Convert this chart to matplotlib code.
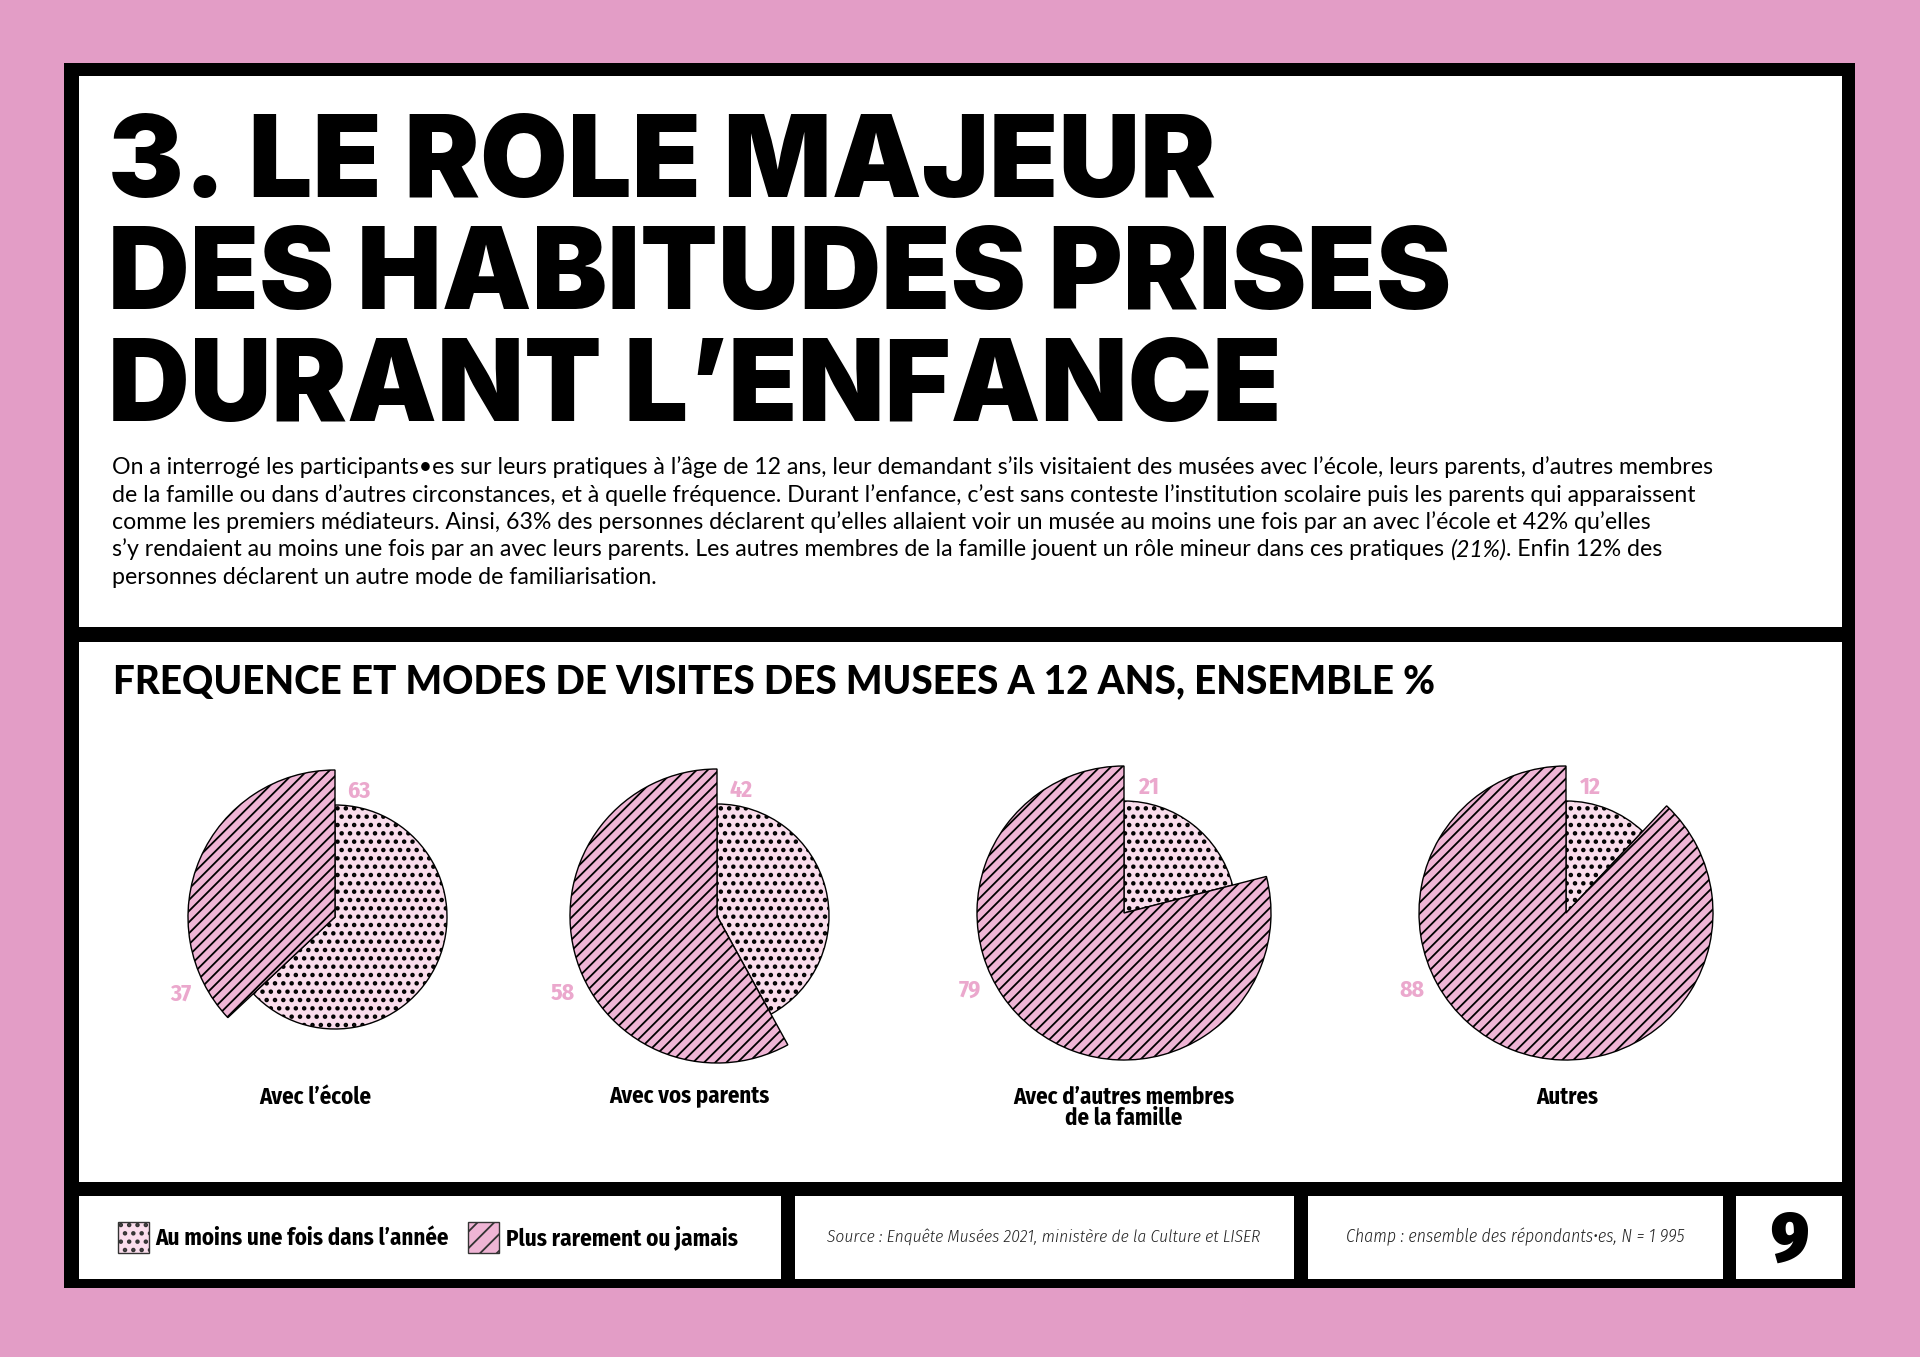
import matplotlib
matplotlib.use("Agg")
import matplotlib.pyplot as plt
from matplotlib.patches import Rectangle

# ---------------- data ----------------
categories = ["Avec l’école", "Avec vos parents", "Avec d’autres membres\nde la famille", "Autres"]
au_moins_une_fois = [63, 42, 21, 12]
plus_rarement = [37, 58, 79, 88]
legend_labels = ["Au moins une fois dans l’année", "Plus rarement ou jamais"]

title_lines = ["3. LE ROLE MAJEUR", "DES HABITUDES PRISES", "DURANT L’ENFANCE"]
body_lines = [
    ["On a interrogé les participants•es sur leurs pratiques à l’âge de 12 ans, leur demandant s’ils visitaient des musées avec l’école, leurs parents, d’autres membres"],
    ["de la famille ou dans d’autres circonstances, et à quelle fréquence. Durant l’enfance, c’est sans conteste l’institution scolaire puis les parents qui apparaissent"],
    ["comme les premiers médiateurs. Ainsi, 63% des personnes déclarent qu’elles allaient voir un musée au moins une fois par an avec l’école et 42% qu’elles"],
    ["s’y rendaient au moins une fois par an avec leurs parents. Les autres membres de la famille jouent un rôle mineur dans ces pratiques ", "(21%)", ". Enfin 12% des"],
    ["personnes déclarent un autre mode de familiarisation."],
]
subtitle = "FREQUENCE ET MODES DE VISITES DES MUSEES A 12 ANS, ENSEMBLE %"
source = "Source : Enquête Musées 2021, ministère de la Culture et LISER"
champ = "Champ : ensemble des répondants•es, N = 1 995"
page = "9"

# ---------------- style ----------------
PINK_BG = "#E39DC6"
DOT_FILL = "#FADDEC"
HATCH_FILL = "#EFB5D5"
LABEL_PINK = "#EBA8CD"
W, H = 1920, 1357
plt.rcParams["hatch.linewidth"] = 1.3

fig = plt.figure(figsize=(W / 100, H / 100), dpi=100, facecolor=PINK_BG)
bg = fig.add_axes([0, 0, 1, 1])
bg.set_xlim(0, W)
bg.set_ylim(H, 0)
bg.axis("off")
renderer = fig.canvas.get_renderer()

def rect(x0, y0, x1, y1, color, z=0):
    bg.add_patch(Rectangle((x0, y0), x1 - x0, y1 - y0, facecolor=color, edgecolor="none", zorder=z))

rect(64, 63, 1855, 1288, "black")
rect(79, 76, 1842, 627, "white", 1)
rect(79, 642, 1842, 1182, "white", 1)
for x0, x1 in [(79, 781), (795, 1294), (1308, 1723), (1736, 1842)]:
    rect(x0, 1196, x1, 1279, "white", 1)

TITLE = dict(family=["Inter", "Fira Sans"], weight=900)
HEAVY = dict(family="Fira Sans Condensed", weight=900)
COND_BOLD = dict(family="Fira Sans Condensed", weight=700)

for i, t in enumerate(title_lines):
    bg.text(108, 197 + i * 112, t, fontsize=81.5, color="black", va="baseline", ha="left", zorder=3, **TITLE)

for i, parts in enumerate(body_lines):
    x = 112
    for j, p in enumerate(parts):
        style = "italic" if p.startswith("(") else "normal"
        t = bg.text(x, 474.5 + i * 27.3, p, fontsize=16.7, family="Lato", style=style, color="black",
                    va="baseline", ha="left", zorder=3)
        x += t.get_window_extent(renderer).width

bg.text(113, 693, subtitle, fontsize=27.8, color="black", va="baseline", ha="left", zorder=3,
        family="Lato", weight=900)

# ---------------- pies ----------------
centers = [(335, 917), (717, 916), (1124, 913), (1566, 913)]
label_x = [315, 689, 1124, 1567]
R_OUT = 147.0
R_IN_FRAC = 112.0 / 147.0
HALF = 1.2
for i, (cx, cy) in enumerate(centers):
    hp = HALF * R_OUT
    ax = fig.add_axes([(cx - hp) / W, (H - cy - hp) / H, 2 * hp / W, 2 * hp / H])
    wedges, _ = ax.pie([au_moins_une_fois[i], plus_rarement[i]], radius=1.0, startangle=90,
                       counterclock=False,
                       colors=[DOT_FILL, HATCH_FILL],
                       wedgeprops=dict(edgecolor="black", linewidth=1.0))
    wedges[0].set_radius(R_IN_FRAC)
    wedges[0].set_hatch("..")
    wedges[1].set_hatch("///")
    wedges[1].set_zorder(wedges[0].get_zorder() + 0.5)
    if hasattr(wedges[0], "set_hatch_linewidth"):
        wedges[0].set_hatch_linewidth(2.0)
    ax.set_xlim(-HALF, HALF)
    ax.set_ylim(-HALF, HALF)
    ax.axis("off")
    ax.text(0.165, 0.857, str(au_moins_une_fois[i]), color=LABEL_PINK, fontsize=17,
            ha="center", va="center", **COND_BOLD)
    ax.text(-1.048, -0.524, str(plus_rarement[i]), color=LABEL_PINK, fontsize=17,
            ha="center", va="center", **COND_BOLD)
    for k, line in enumerate(categories[i].split("\n")):
        bg.text(label_x[i], 1103.5 + k * 21.5, line, fontsize=16.4, ha="center", va="baseline",
                zorder=3, **COND_BOLD)

# ---------------- footer ----------------
sw1 = Rectangle((118, 1222), 31, 31, facecolor=DOT_FILL, edgecolor="#333333", hatch="..",
                linewidth=1.0, zorder=3)
if hasattr(sw1, "set_hatch_linewidth"):
    sw1.set_hatch_linewidth(2.0)
bg.add_patch(sw1)
bg.text(155, 1245, legend_labels[0], fontsize=16.5, va="baseline", ha="left", zorder=3, **COND_BOLD)
bg.add_patch(Rectangle((468, 1222), 31, 31, facecolor=HATCH_FILL, edgecolor="#333333", hatch="//",
                       linewidth=1.0, zorder=3))
bg.text(506, 1245, legend_labels[1], fontsize=16.6, va="baseline", ha="left", zorder=3, **COND_BOLD)

bg.text(1044, 1237, source, fontsize=12.5, family="Fira Sans Condensed", weight=300, style="italic",
        color="#222222", ha="center", va="center", zorder=3)
bg.text(1515, 1237, champ, fontsize=12.8, family="Fira Sans Condensed", weight=300, style="italic",
        color="#222222", ha="center", va="center", zorder=3)
bg.text(1789, 1241, page, fontsize=51, ha="center", va="center", zorder=3, **HEAVY)

fig.savefig("out.png", dpi=100, facecolor=PINK_BG)
